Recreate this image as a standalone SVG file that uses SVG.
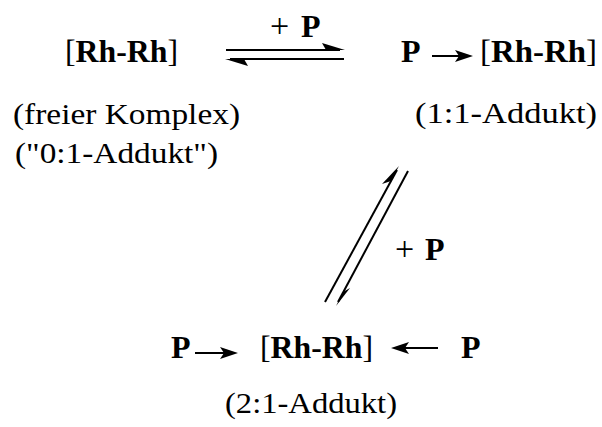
<svg xmlns="http://www.w3.org/2000/svg" width="602" height="427" viewBox="0 0 602 427">
<style>
text{font-family:"Liberation Serif","Times New Roman",serif;fill:#000}
.big{font-size:32px}
.plus{font-size:34px}
.lab{font-size:30px}
.b{font-weight:bold}
.ln{stroke:#000;stroke-width:2;fill:none}
.hd{fill:#000;stroke:none}
</style>
<rect width="602" height="427" fill="#fff"/>
<g id="node-free">
<text class="big" x="65" y="62" textLength="113" lengthAdjust="spacingAndGlyphs">[<tspan class="b">Rh-Rh</tspan>]</text>
<text class="lab" x="13" y="124" textLength="227" lengthAdjust="spacingAndGlyphs">(freier Komplex)</text>
<text class="lab" x="15" y="163" textLength="203" lengthAdjust="spacingAndGlyphs">("0:1-Addukt")</text>
</g>
<g id="node-11">
<text class="big b" x="401" y="62">P</text>
<text class="big" x="480" y="62" textLength="117" lengthAdjust="spacingAndGlyphs">[<tspan class="b">Rh-Rh</tspan>]</text>
<path class="ln" d="M432 56H462"/>
<polygon class="hd" points="473,56 455,50 459,56 455,62"/>
<text class="lab" x="415" y="123" textLength="182" lengthAdjust="spacingAndGlyphs">(1:1-Addukt)</text>
</g>
<g id="node-21">
<text class="big b" x="171" y="358">P</text>
<path class="ln" d="M195 353H227"/>
<polygon class="hd" points="238,353 220,347 224,353 220,359"/>
<text class="big" x="260" y="358" textLength="113" lengthAdjust="spacingAndGlyphs">[<tspan class="b">Rh-Rh</tspan>]</text>
<path class="ln" d="M402 348H438"/>
<polygon class="hd" points="391,348 409,342 405,348 409,354"/>
<text class="big b" x="461" y="358">P</text>
<text class="lab" x="225" y="413" textLength="172" lengthAdjust="spacingAndGlyphs">(2:1-Addukt)</text>
</g>
<g id="connectors">
<path class="ln" d="M226 50H340"/>
<polygon class="hd" points="345,50 322,43 326,50"/>
<path class="ln" d="M230 59H344"/>
<polygon class="hd" points="225,59 248,66 244,59"/>
<text class="plus" x="270" y="37">+</text>
<text class="big b" x="301" y="37">P</text>
<path class="ln" d="M325 302L397 170"/>
<polygon class="hd" points="399,166 382,184 391,181"/>
<path class="ln" d="M408 171L338 302"/>
<polygon class="hd" points="336,306 350,288 343,292"/>
<text class="plus" x="395" y="260">+</text>
<text class="big b" x="425" y="260">P</text>
</g>
</svg>
